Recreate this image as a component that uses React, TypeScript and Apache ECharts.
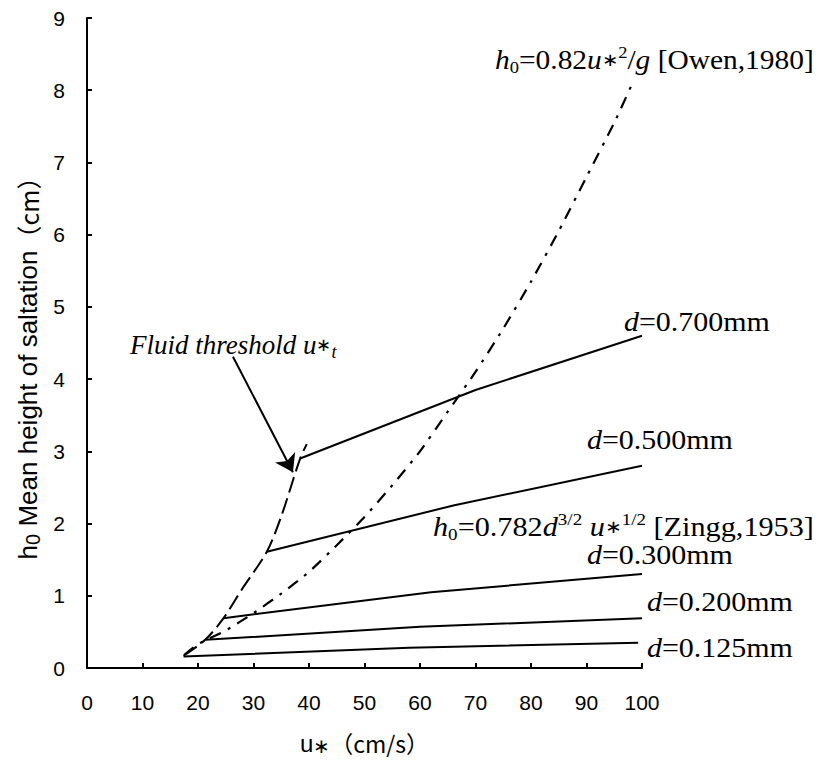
import React, { useEffect, useRef } from "react";
import * as echarts from "echarts";

// Fluid threshold (dashed)
const thresholdU = [17.4, 21.3, 24.6, 28.0, 32.4, 35.0, 38.4, 39.6];
const thresholdH = [0.17, 0.39, 0.69, 1.1, 1.61, 2.1, 2.9, 3.1];

// Owen 1980 (dash-dot)
const owenU = [17.5, 20, 25, 30, 35, 40, 45, 50, 55, 60, 65, 70, 75, 80, 85, 90, 95, 98];
const owenH = [0.18, 0.33, 0.52, 0.76, 1.03, 1.33, 1.7, 2.09, 2.53, 3.0, 3.55, 4.1, 4.7, 5.35, 6.05, 6.8, 7.55, 8.05];

// Zingg 1953 (solid), one per grain size
const zinggU700 = [38.4, 70, 100];
const zinggH700 = [2.9, 3.85, 4.6];
const zinggU500 = [32.4, 66, 100];
const zinggH500 = [1.61, 2.25, 2.8];
const zinggU300 = [24.6, 62, 100];
const zinggH300 = [0.69, 1.05, 1.3];
const zinggU200 = [21.3, 60, 100];
const zinggH200 = [0.39, 0.57, 0.69];
const zinggU125 = [17.4, 58, 99.3];
const zinggH125 = [0.16, 0.28, 0.35];

// Arrow for "Fluid threshold" note
const arrowFrom = [26.3, 4.31];
const arrowTo = [37.1, 2.71];

const xTicks = [0, 10, 20, 30, 40, 50, 60, 70, 80, 90, 100];
const yTicks = [0, 1, 2, 3, 4, 5, 6, 7, 8, 9];

const zip = (a: number[], b: number[]) => a.map((v, i) => [v, b[i]]);

const SERIF = "'Liberation Serif', 'Times New Roman', serif";
const SANS = "'Liberation Sans', Arial, sans-serif";
const CJK = "'Noto Sans CJK JP', 'Liberation Sans', sans-serif";
const FS = 27;

const rich = {
  n: { fontFamily: SERIF, fontSize: FS, color: "#000", lineHeight: 32 },
  i: { fontFamily: SERIF, fontSize: FS, fontStyle: "italic", color: "#000", lineHeight: 32 },
  sub: { fontFamily: SERIF, fontSize: 17, color: "#000", verticalAlign: "bottom", lineHeight: 20 },
  sup: { fontFamily: SERIF, fontSize: 17, color: "#000", verticalAlign: "top", lineHeight: 20 },
  ast: { fontFamily: SERIF, fontSize: 18, color: "#000", lineHeight: 32 },
  isub: { fontFamily: SERIF, fontSize: 18, fontStyle: "italic", color: "#000", verticalAlign: "bottom", lineHeight: 20 },
};

const note = (text: string, x: number, y: number, sx = 1.1) => ({
  type: "text",
  x,
  y,
  scaleX: sx,
  style: {
    text,
    rich,
    fontFamily: SERIF,
    fontSize: FS,
    fill: "#000",
    textAlign: "left",
    textVerticalAlign: "middle",
  },
});

export default function App() {
  const ref = useRef<HTMLDivElement>(null);
  useEffect(() => {
    if (!ref.current) return;
    const chart = echarts.init(ref.current, undefined, { renderer: "svg" });
    const solid = (name: string, u: number[], h: number[]) => ({
      name,
      type: "line",
      data: zip(u, h),
      showSymbol: false,
      symbol: "none",
      lineStyle: { color: "#000", width: 2, type: "solid" },
      z: 3,
    });
    chart.setOption({
      animation: false,
      backgroundColor: "#fff",
      grid: { left: 87, right: 181, top: 18, bottom: 94, containLabel: false },
      xAxis: {
        type: "value",
        min: xTicks[0],
        max: xTicks[xTicks.length - 1],
        interval: 10,
        name: "{u|u}{a|∗}{n|（cm/s）}",
        nameLocation: "middle",
        nameGap: 62,
        nameTextStyle: {
          rich: {
            u: { fontFamily: SANS, fontSize: 24, color: "#000" },
            a: { fontFamily: SANS, fontSize: 20, color: "#000", verticalAlign: "bottom", lineHeight: 26 },
            n: { fontFamily: CJK, fontSize: 23, color: "#000" },
          },
        },
        axisLine: { show: true, lineStyle: { color: "#000", width: 2 } },
        axisTick: { show: true, inside: true, length: 5, lineStyle: { color: "#000", width: 2 } },
        axisLabel: { color: "#000", fontSize: 21, fontFamily: SANS, margin: 24 },
        splitLine: { show: false },
      },
      yAxis: {
        type: "value",
        min: yTicks[0],
        max: yTicks[yTicks.length - 1],
        interval: 1,
        axisLine: { show: true, lineStyle: { color: "#000", width: 2 } },
        axisTick: { show: true, inside: true, length: 5, lineStyle: { color: "#000", width: 2 } },
        axisLabel: { color: "#000", fontSize: 21, fontFamily: SANS, margin: 22 },
        splitLine: { show: false },
      },
      series: [
        {
          name: "Fluid threshold",
          type: "line",
          data: zip(thresholdU, thresholdH),
          symbol: "none",
          smooth: 0.3,
          lineStyle: { color: "#000", width: 2, type: [16, 6] },
          z: 4,
          markLine: {
            silent: true,
            symbol: ["none", "arrow"],
            symbolSize: 17,
            label: { show: false },
            lineStyle: { color: "#000", width: 2, type: "solid" },
            data: [[{ coord: arrowFrom }, { coord: arrowTo }]],
          },
        },
        {
          name: "Owen 1980",
          type: "line",
          data: zip(owenU, owenH),
          symbol: "none",
          smooth: 0.2,
          lineStyle: { color: "#000", width: 2.2, type: [12, 8, 3, 8] },
          z: 4,
        },
        solid("d=0.700mm", zinggU700, zinggH700),
        solid("d=0.500mm", zinggU500, zinggH500),
        solid("d=0.300mm", zinggU300, zinggH300),
        solid("d=0.200mm", zinggU200, zinggH200),
        solid("d=0.125mm", zinggU125, zinggH125),
      ],
      graphic: [
        {
          type: "text",
          x: 28,
          y: 362,
          rotation: Math.PI / 2,
          style: {
            text: "{n|h}{s|0}{n| Mean height of saltation}{c|（cm）}",
            rich: {
              n: { fontFamily: SANS, fontSize: 26, color: "#000", lineHeight: 30 },
              s: { fontFamily: SANS, fontSize: 20, color: "#000", verticalAlign: "bottom", lineHeight: 26 },
              c: { fontFamily: CJK, fontSize: 25, color: "#000", lineHeight: 30 },
            },
            fill: "#000",
            textAlign: "center",
            textVerticalAlign: "middle",
          },
        },
        note("{i|h}{sub|0}{n|=0.82}{i|u}{ast|∗}{sup|2}{n|/}{i|g}{n| [Owen,1980]}", 495, 60, 1.09),
        note("{i|d}{n|=0.700mm}", 624, 322, 1.11),
        note("{i|d}{n|=0.500mm}", 587, 440, 1.11),
        note("{i|h}{sub|0}{n|=0.782}{i|d}{sup|3/2}{n| }{i|u}{ast|∗}{sup|1/2}{n| [Zingg,1953]}", 433, 527, 1.12),
        note("{i|d}{n|=0.300mm}", 587, 555, 1.11),
        note("{i|d}{n|=0.200mm}", 647, 602, 1.11),
        note("{i|d}{n|=0.125mm}", 647, 648, 1.11),
        note("{i|Fluid threshold u}{ast|∗}{isub|t}", 130, 345, 1.0),
      ],
    });
    return () => chart.dispose();
  }, []);
  return (
    <div
      ref={ref}
      style={{ position: "fixed", left: 0, top: 0, width: 823, height: 762, background: "#fff" }}
    />
  );
}
